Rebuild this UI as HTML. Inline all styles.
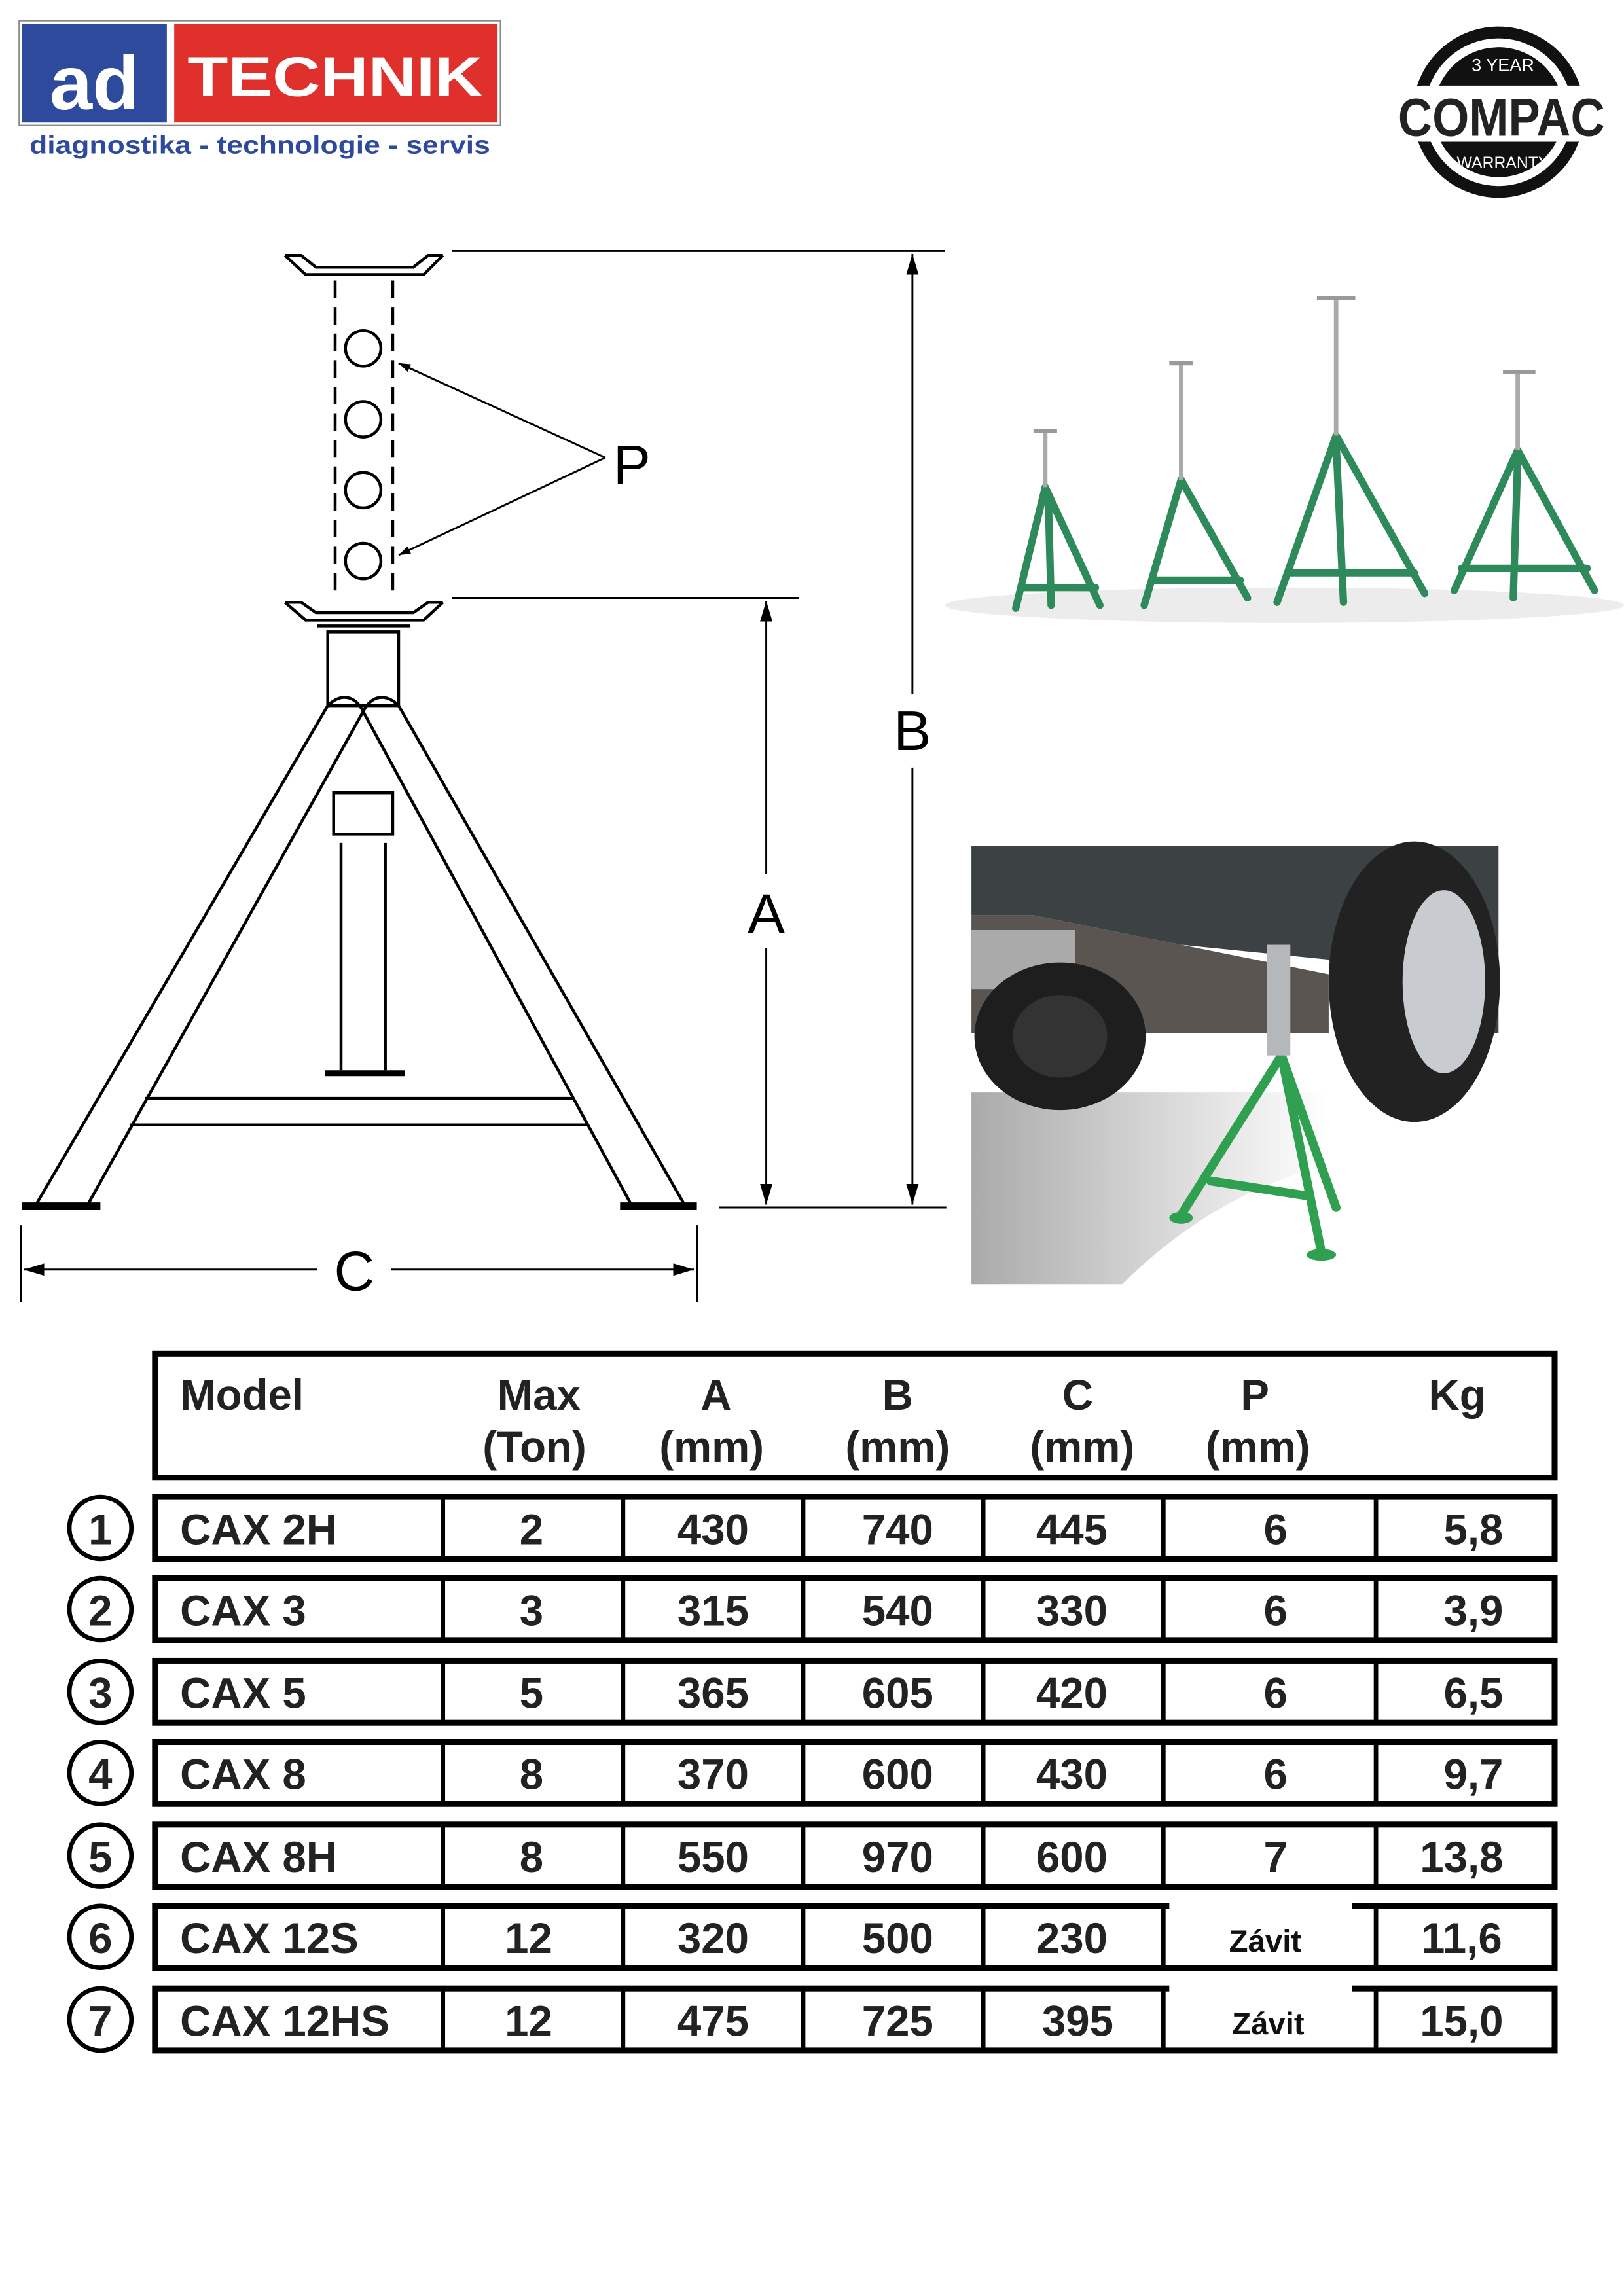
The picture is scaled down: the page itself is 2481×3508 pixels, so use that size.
<!DOCTYPE html>
<html><head><meta charset="utf-8"><style>
html,body{margin:0;padding:0;background:#fff}
svg{display:block}
text{font-family:"Liberation Sans",sans-serif}
</style></head><body>
<svg width="2481" height="3508" viewBox="0 0 1100 1555.3" preserveAspectRatio="none" xmlns="http://www.w3.org/2000/svg">
<defs>
<marker id="ar" viewBox="0 0 10 10" refX="10" refY="5" markerWidth="8" markerHeight="8" orient="auto-start-reverse" markerUnits="userSpaceOnUse"><path d="M0,1.5 L10,5 L0,8.5z" fill="#000"/></marker>
<marker id="ar2" viewBox="0 0 10 10" refX="10" refY="5" markerWidth="14" markerHeight="28" orient="auto-start-reverse" markerUnits="userSpaceOnUse"><path d="M0,2 L10,5 L0,8z" fill="#000"/></marker>
<linearGradient id="shadow" x1="0" y1="0" x2="1" y2="0"><stop offset="0" stop-color="#aaa"/><stop offset="0.6" stop-color="#ddd"/><stop offset="1" stop-color="#fff"/></linearGradient>
</defs>

<!-- Logo -->
<rect x="13" y="14" width="326" height="71" fill="#fff" stroke="#888" stroke-width="1"/>
<rect x="15" y="16" width="98" height="67" fill="#2e4a9c"/>
<rect x="118" y="16" width="219" height="67" fill="#e0302c"/>
<text x="64" y="74" font-size="52" font-weight="bold" fill="#fff" text-anchor="middle">ad</text>
<text x="227" y="65" font-size="38" font-weight="bold" fill="#fff" text-anchor="middle" textLength="200" lengthAdjust="spacingAndGlyphs">TECHNIK</text>
<text x="20" y="104" font-size="17" font-weight="bold" fill="#2e4a9c" textLength="312" lengthAdjust="spacingAndGlyphs">diagnostika - technologie - servis</text>

<!-- Compac badge -->
<circle cx="1015" cy="76" r="58" fill="#111"/>
<circle cx="1015" cy="76" r="50" fill="#fff"/>
<circle cx="1015" cy="76" r="44" fill="#111"/>
<text x="1018" y="48" font-size="12" fill="#fff" text-anchor="middle">3 YEAR</text>
<text x="1018" y="114" font-size="11" fill="#fff" text-anchor="middle">WARRANTY</text>
<rect x="945" y="58" width="145" height="38" rx="18" fill="#fff"/>
<text x="1017" y="92" font-size="36" font-weight="bold" fill="#222" text-anchor="middle" textLength="140" lengthAdjust="spacingAndGlyphs">COMPAC</text>

<!-- Technical drawing -->
<g fill="none" stroke="#000" stroke-width="2">
<path d="M193,173 L207,186 L287,186 L300,173 M193,173 L204,173 L214,181 L280,181 L290,173 L300,173"/>
<line x1="227" y1="190" x2="227" y2="405" stroke-dasharray="12,6"/>
<line x1="266" y1="190" x2="266" y2="405" stroke-dasharray="12,6"/>
<circle cx="246" cy="236" r="12"/><circle cx="246" cy="284" r="12"/><circle cx="246" cy="332" r="12"/><circle cx="246" cy="380" r="12"/>
<path d="M193,408 L207,420 L287,420 L300,408 M193,408 L204,408 L214,415 L280,415 L290,408 L300,408"/>
<line x1="215" y1="424" x2="278" y2="424"/>
<rect x="222" y="428" width="48" height="50"/>
<path d="M222,478 C230,470 240,470 246,482 C252,470 262,470 270,478"/>
<path d="M222,478 L25,815 M246,482 L60,815"/>
<path d="M270,478 L463,815 M246,482 L427,815"/>
<line x1="15" y1="817" x2="68" y2="817" stroke-width="5"/>
<line x1="420" y1="817" x2="472" y2="817" stroke-width="5"/>
<line x1="98" y1="744" x2="388" y2="744"/>
<line x1="88" y1="762" x2="398" y2="762"/>
<rect x="226" y="537" width="40" height="28"/>
<line x1="231" y1="571" x2="231" y2="725"/><line x1="261" y1="571" x2="261" y2="725"/>
<line x1="220" y1="727" x2="274" y2="727" stroke-width="4"/>
</g>
<g stroke="#000" stroke-width="1.3" fill="none">
<line x1="306" y1="170" x2="640" y2="170"/>
<line x1="306" y1="405" x2="541" y2="405"/>
<line x1="487" y1="818" x2="641" y2="818"/>
<line x1="618" y1="172" x2="618" y2="470" marker-start="url(#ar2)"/>
<line x1="618" y1="520" x2="618" y2="816" marker-end="url(#ar2)"/>
<line x1="519" y1="407" x2="519" y2="592" marker-start="url(#ar2)"/>
<line x1="519" y1="642" x2="519" y2="816" marker-end="url(#ar2)"/>
<line x1="14" y1="830" x2="14" y2="882"/>
<line x1="472" y1="830" x2="472" y2="882"/>
<line x1="16" y1="860" x2="215" y2="860" marker-start="url(#ar2)"/>
<line x1="265" y1="860" x2="470" y2="860" marker-end="url(#ar2)"/>
<line x1="410" y1="310" x2="270" y2="246" marker-end="url(#ar)"/>
<line x1="410" y1="310" x2="270" y2="376" marker-end="url(#ar)"/>
</g>
<g font-size="38" fill="#000" text-anchor="middle">
<text x="618" y="508">B</text>
<text x="519" y="632">A</text>
<text x="240" y="874">C</text>
<text x="428" y="328">P</text>
</g>

<!-- jack stands photo -->
<g>
<ellipse cx="870" cy="410" rx="230" ry="12" fill="#ececec"/>
<g stroke="#2e8a5a" stroke-width="5" fill="none" stroke-linecap="round">
<path d="M708,330 L688,412 M708,330 L745,410 M692,398 L742,398 M710,335 L712,410"/>
<path d="M800,325 L775,410 M800,325 L845,405 M780,393 L840,393"/>
<path d="M905,295 L865,408 M905,295 L965,402 M872,388 L958,388 M905,300 L910,408"/>
<path d="M1028,305 L985,400 M1028,305 L1080,400 M990,385 L1075,385 M1028,310 L1025,405"/>
</g>
<g stroke="#aaa" stroke-width="3">
<line x1="708" y1="292" x2="708" y2="330"/><line x1="800" y1="246" x2="800" y2="325"/>
<line x1="905" y1="202" x2="905" y2="295"/><line x1="1028" y1="252" x2="1028" y2="305"/>
</g>
<g stroke="#999" stroke-width="3">
<line x1="700" y1="292" x2="716" y2="292"/><line x1="792" y1="246" x2="808" y2="246"/>
<line x1="892" y1="202" x2="918" y2="202"/><line x1="1018" y1="252" x2="1040" y2="252"/>
</g>
</g>

<!-- car photo -->
<g>
<rect x="658" y="573" width="357" height="297" fill="#fff"/>
<path d="M658,740 L900,740 L900,790 C850,800 800,830 760,870 L658,870z" fill="url(#shadow)"/>
<path d="M658,573 L1015,573 L1015,700 L930,700 L900,650 L800,640 L700,620 L658,620z" fill="#3c4244"/>
<path d="M658,620 L700,620 L800,640 L900,660 L900,700 L658,700z" fill="#5a5550"/>
<rect x="658" y="630" width="70" height="40" fill="#aaa"/>
<ellipse cx="718" cy="702" rx="58" ry="50" fill="#1e1e1e"/>
<ellipse cx="718" cy="702" rx="32" ry="28" fill="#333"/>
<ellipse cx="958" cy="665" rx="58" ry="95" fill="#222"/>
<ellipse cx="978" cy="665" rx="28" ry="62" fill="#c8cbcf"/>
<g stroke="#2fa050" stroke-width="6" fill="none" stroke-linecap="round">
<path d="M868,715 L800,823 M868,715 L895,848 M868,715 L905,818 M820,800 L885,810"/>
</g>
<rect x="858" y="640" width="16" height="75" fill="#b5b8ba"/>
<ellipse cx="800" cy="825" rx="8" ry="4" fill="#2fa050"/>
<ellipse cx="895" cy="850" rx="10" ry="4" fill="#2fa050"/>
</g>

<!-- table -->
<g fill="none" stroke="#000" stroke-width="4">
<rect x="105" y="917" width="948" height="84"/>
<rect x="105" y="1014" width="948" height="42"/>
<rect x="105" y="1069" width="948" height="42"/>
<rect x="105" y="1125" width="948" height="42"/>
<rect x="105" y="1180" width="948" height="42"/>
<rect x="105" y="1236" width="948" height="42"/>
<rect x="105" y="1291" width="948" height="42"/>
<rect x="105" y="1347" width="948" height="42"/>
</g>
<g stroke="#000" stroke-width="3">
<path d="M300,1014v42M422,1014v42M544,1014v42M666,1014v42M788,1014v42M932,1014v42"/>
<path d="M300,1069v42M422,1069v42M544,1069v42M666,1069v42M788,1069v42M932,1069v42"/>
<path d="M300,1125v42M422,1125v42M544,1125v42M666,1125v42M788,1125v42M932,1125v42"/>
<path d="M300,1180v42M422,1180v42M544,1180v42M666,1180v42M788,1180v42M932,1180v42"/>
<path d="M300,1236v42M422,1236v42M544,1236v42M666,1236v42M788,1236v42M932,1236v42"/>
<path d="M300,1291v42M422,1291v42M544,1291v42M666,1291v42M788,1291v42M932,1291v42"/>
<path d="M300,1347v42M422,1347v42M544,1347v42M666,1347v42M788,1347v42M932,1347v42"/>
</g>
<g fill="none" stroke="#000" stroke-width="3">
<circle cx="68" cy="1035" r="21"/><circle cx="68" cy="1090" r="21"/><circle cx="68" cy="1146" r="21"/>
<circle cx="68" cy="1201" r="21"/><circle cx="68" cy="1257" r="21"/><circle cx="68" cy="1312" r="21"/><circle cx="68" cy="1368" r="21"/>
</g>
<g font-size="29" font-weight="bold" fill="#222" text-anchor="middle">
<text x="68" y="1046">1</text><text x="68" y="1101">2</text><text x="68" y="1157">3</text><text x="68" y="1212">4</text><text x="68" y="1268">5</text><text x="68" y="1323">6</text><text x="68" y="1379">7</text>
</g>
<g font-size="29" font-weight="bold" fill="#222">
<text x="122" y="955">Model</text>
<g text-anchor="middle">
<text x="365" y="955">Max</text><text x="362" y="990">(Ton)</text>
<text x="485" y="955">A</text><text x="482" y="990">(mm)</text>
<text x="608" y="955">B</text><text x="608" y="990">(mm)</text>
<text x="730" y="955">C</text><text x="733" y="990">(mm)</text>
<text x="850" y="955">P</text><text x="852" y="990">(mm)</text>
<text x="987" y="955">Kg</text>
</g>
</g>
<g font-size="29" font-weight="bold" fill="#222">
<text x="122" y="1046">CAX 2H</text><text x="122" y="1101">CAX 3</text><text x="122" y="1157">CAX 5</text><text x="122" y="1212">CAX 8</text><text x="122" y="1268">CAX 8H</text><text x="122" y="1323">CAX 12S</text><text x="122" y="1379">CAX 12HS</text>
</g>
<g font-size="29" font-weight="bold" fill="#222" text-anchor="middle">
<text x="360" y="1046">2</text><text x="483" y="1046">430</text><text x="608" y="1046">740</text><text x="726" y="1046">445</text><text x="864" y="1046">6</text><text x="998" y="1046">5,8</text>
<text x="360" y="1101">3</text><text x="483" y="1101">315</text><text x="608" y="1101">540</text><text x="726" y="1101">330</text><text x="864" y="1101">6</text><text x="998" y="1101">3,9</text>
<text x="360" y="1157">5</text><text x="483" y="1157">365</text><text x="608" y="1157">605</text><text x="726" y="1157">420</text><text x="864" y="1157">6</text><text x="998" y="1157">6,5</text>
<text x="360" y="1212">8</text><text x="483" y="1212">370</text><text x="608" y="1212">600</text><text x="726" y="1212">430</text><text x="864" y="1212">6</text><text x="998" y="1212">9,7</text>
<text x="360" y="1268">8</text><text x="483" y="1268">550</text><text x="608" y="1268">970</text><text x="726" y="1268">600</text><text x="864" y="1268">7</text><text x="990" y="1268">13,8</text>
<text x="358" y="1323">12</text><text x="483" y="1323">320</text><text x="608" y="1323">500</text><text x="726" y="1323">230</text><text x="990" y="1323">11,6</text>
<text x="358" y="1379">12</text><text x="483" y="1379">475</text><text x="608" y="1379">725</text><text x="730" y="1379">395</text><text x="990" y="1379">15,0</text>
</g>
<rect x="792" y="1288" width="124" height="8" fill="#fff"/>
<rect x="792" y="1344" width="124" height="8" fill="#fff"/>
<g font-size="21" font-weight="bold" fill="#111" text-anchor="middle">
<text x="857" y="1322">Závit</text><text x="859" y="1378">Závit</text>
</g>
</svg>
</body></html>
